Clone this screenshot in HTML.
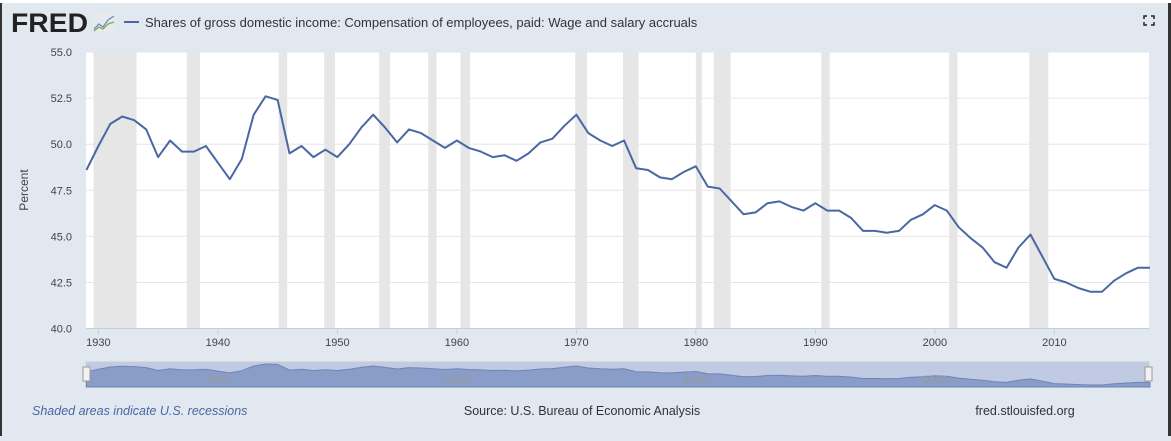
<!DOCTYPE html>
<html><head><meta charset="utf-8"><style>
html,body{margin:0;padding:0;}
body{width:1171px;height:436px;overflow:hidden;background:#e1e8f0;font-family:"Liberation Sans",sans-serif;}
</style></head><body>
<svg id="c" width="1171" height="436" xmlns="http://www.w3.org/2000/svg">
<rect x="0" y="0" width="1171" height="436" fill="#e1e8f0"/>
<rect x="0" y="0" width="2" height="436" fill="#333"/>
<rect x="1168" y="0" width="3" height="436" fill="#333"/>
<rect x="0" y="0" width="1171" height="3" fill="#fff"/>
<g>
<text x="11" y="32" font-size="27" font-weight="bold" fill="#222" textLength="77" lengthAdjust="spacingAndGlyphs">FRED</text>
<rect x="93" y="13" width="22" height="19" fill="#e6eaee" rx="2"/>
<polyline points="94,29 99,24 103,27 108,20 114,16" fill="none" stroke="#6f8db9" stroke-width="1.3"/>
<polyline points="94,31 99,27 103,29 108,24 114,22" fill="none" stroke="#7cae4a" stroke-width="1.3"/>
</g>
<line x1="124" y1="22" x2="139" y2="22" stroke="#4a67a3" stroke-width="2"/>
<text x="145" y="27" font-size="13" fill="#333">Shares of gross domestic income: Compensation of employees, paid: Wage and salary accruals</text>
<g stroke="#222" stroke-width="1.5" fill="none">
<polyline points="1144,19 1144,16 1147,16"/><polyline points="1151,16 1154,16 1154,19"/>
<polyline points="1144,22 1144,25 1147,25"/><polyline points="1151,25 1154,25 1154,22"/>
</g>
<rect x="86" y="52" width="1063" height="277" fill="#fff"/>
<g id="rec"></g><g id="grid"></g><g id="xax"></g><g id="line"></g><g id="nav"></g>
<text x="28" y="190" font-size="12" fill="#444" transform="rotate(-90 28 190)" text-anchor="middle">Percent</text>
<text x="32" y="415" font-size="12.5" fill="#4a67a3" font-style="italic">Shaded areas indicate U.S. recessions</text>
<text x="582" y="415" font-size="12.5" fill="#333" text-anchor="middle">Source: U.S. Bureau of Economic Analysis</text>
<text x="1025" y="415" font-size="12.5" fill="#333" text-anchor="middle">fred.stlouisfed.org</text>
</svg>
<script>
const years=[1929,1930,1931,1932,1933,1934,1935,1936,1937,1938,1939,1940,1941,1942,1943,1944,1945,1946,1947,1948,1949,1950,1951,1952,1953,1954,1955,1956,1957,1958,1959,1960,1961,1962,1963,1964,1965,1966,1967,1968,1969,1970,1971,1972,1973,1974,1975,1976,1977,1978,1979,1980,1981,1982,1983,1984,1985,1986,1987,1988,1989,1990,1991,1992,1993,1994,1995,1996,1997,1998,1999,2000,2001,2002,2003,2004,2005,2006,2007,2008,2009,2010,2011,2012,2013,2014,2015,2016,2017,2018];
const values=[48.6,49.9,51.1,51.5,51.3,50.8,49.3,50.2,49.6,49.6,49.9,49.0,48.1,49.2,51.6,52.6,52.4,49.5,49.9,49.3,49.7,49.3,50.0,50.9,51.6,50.9,50.1,50.8,50.6,50.2,49.8,50.2,49.8,49.6,49.3,49.4,49.1,49.5,50.1,50.3,51.0,51.6,50.6,50.2,49.9,50.2,48.7,48.6,48.2,48.1,48.5,48.8,47.7,47.6,46.9,46.2,46.3,46.8,46.9,46.6,46.4,46.8,46.4,46.4,46.0,45.3,45.3,45.2,45.3,45.9,46.2,46.7,46.4,45.5,44.9,44.4,43.6,43.3,44.4,45.1,43.9,42.7,42.5,42.2,42.0,42.0,42.6,43.0,43.3,43.3];
const recStart=[1929.6,1937.4,1945.1,1948.9,1953.5,1957.6,1960.3,1969.9,1973.9,1980.0,1981.5,1990.5,2001.2,2007.9];
const recEnd=[1933.2,1938.5,1945.8,1949.8,1954.4,1958.3,1961.1,1970.9,1975.2,1980.5,1982.9,1991.2,2001.9,2009.5];
const yTicks=[40,42.5,45,47.5,50,52.5,55];
const yTickLabels=["40.0","42.5","45.0","47.5","50.0","52.5","55.0"];
const xTicks=[1930,1940,1950,1960,1970,1980,1990,2000,2010];
const navLabels=[1940,1960,1980,2000];
const NS="http://www.w3.org/2000/svg";
const X=y=>86.4+(y-1929)*11.95;
const Y=v=>52+(55-v)*(276.6/15);
const NY=v=>385-(v-42)*(21/10.6);
function mk(t,a,p){const e=document.createElementNS(NS,t);for(const k in a)e.setAttribute(k,a[k]);document.getElementById(p).appendChild(e);return e;}
recStart.forEach((s,i)=>{const e=mk('rect',{x:X(s),y:52,width:X(recEnd[i])-X(s),height:277,fill:'#e6e6e6'},'rec');

});
yTicks.forEach((v,i)=>{if(v>40){const l=mk('line',{x1:86,x2:1149,y1:Y(v),y2:Y(v),stroke:'#e6e6e6','stroke-width':1},'grid');

}
const t=mk('text',{x:72,y:Y(v)+4,'font-size':11,fill:'#444','text-anchor':'end'},'grid');t.textContent=yTickLabels[i];

});
const ax=mk('line',{x1:86,x2:1149,y1:328.5,y2:328.5,stroke:'#c0d0e0','stroke-width':1},'xax');


xTicks.forEach(y=>{const l=mk('line',{x1:X(y),x2:X(y),y1:329,y2:334,stroke:'#c0d0e0'},'xax');


const t=mk('text',{x:X(y),y:346,'font-size':11,fill:'#444','text-anchor':'middle'},'xax');t.textContent=y;

});
const pts=years.map((y,i)=>X(y).toFixed(1)+','+Y(values[i]).toFixed(1)).join(' ');
const pl=mk('polyline',{points:pts,fill:'none',stroke:'#4a67a3','stroke-width':2,'stroke-linejoin':'round'},'line');


const nb=mk('rect',{x:86,y:362,width:1063,height:25,fill:'#c0cae3',stroke:'#ccc'},'nav');


const npts=years.map((y,i)=>X(y).toFixed(1)+','+NY(values[i]).toFixed(1)).join(' ');
const na=mk('polygon',{points:'86.4,387 '+npts+' 1150,387',fill:'#8a9cc8',stroke:'#6f84b8','stroke-width':1},'nav');


navLabels.forEach(y=>{const t=mk('text',{x:X(y),y:383,'font-size':11,fill:'#999','text-anchor':'middle'},'nav');t.textContent=y;

});
[83,1145].forEach(x=>{const h=mk('rect',{x:x,y:367,width:7,height:14,fill:'#f2f2f2',stroke:'#999'},'nav');

});
</script>
</body></html>
